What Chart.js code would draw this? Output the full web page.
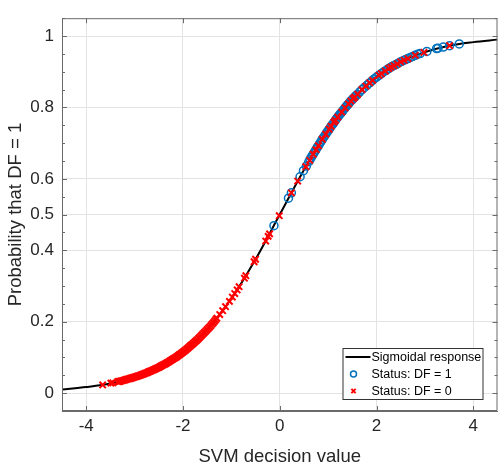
<!DOCTYPE html>
<html>
<head>
<meta charset="utf-8">
<script src="https://cdn.jsdelivr.net/npm/chart.js@4.4.1/dist/chart.umd.min.js"></script>
<style>
  html, body { margin: 0; padding: 0; background: #fff; overflow: hidden; }
  #wrap { width: 504px; height: 466px; }
</style>
</head>
<body>
<div id="wrap"><canvas id="chart" width="504" height="466"></canvas></div>
<script>
// Sigmoid curve
const curveX = [-4.5, -4, -3.5, -3, -2.5, -2, -1.5, -1, -0.5, 0, 0.5, 1, 1.5, 2, 2.5, 3, 3.5, 4, 4.5];
const curveY = [0.010, 0.017, 0.027, 0.045, 0.072, 0.115, 0.178, 0.265, 0.375, 0.5, 0.625, 0.735, 0.822, 0.885, 0.928, 0.955, 0.973, 0.983, 0.990];

// Status: DF = 1 (blue circles)
const dfOneX = [-0.12, 0.18, 0.24, 0.42, 0.49, 0.55,
  0.60, 0.65, 0.70, 0.75, 0.80, 0.85, 0.90, 0.95, 1.00, 1.05, 1.10, 1.15, 1.20, 1.25,
  1.30, 1.35, 1.40, 1.45, 1.50, 1.55, 1.60, 1.65, 1.70, 1.75, 1.80, 1.85, 1.90, 1.95,
  2.00, 2.05, 2.10, 2.15, 2.20, 2.25, 2.30, 2.35, 2.40, 2.45, 2.50, 2.55, 2.60, 2.65,
  2.70, 2.75, 2.80, 2.85, 2.90, 3.04, 3.24, 3.27, 3.38, 3.51, 3.71,
  0.625, 0.675, 0.725, 0.775, 0.825, 0.875, 0.925, 0.975, 1.025, 1.075,
  1.125, 1.175, 1.225, 1.275, 1.325, 1.375, 1.425, 1.475, 1.525, 1.575];
const dfOneY = [0.469, 0.546, 0.561, 0.606, 0.623, 0.636,
  0.648, 0.660, 0.671, 0.682, 0.693, 0.704, 0.715, 0.725, 0.735, 0.745, 0.754, 0.764, 0.773, 0.782,
  0.790, 0.799, 0.807, 0.815, 0.822, 0.829, 0.836, 0.843, 0.850, 0.856, 0.862, 0.868, 0.874, 0.880,
  0.885, 0.890, 0.895, 0.900, 0.904, 0.909, 0.913, 0.917, 0.920, 0.924, 0.928, 0.931, 0.934, 0.937,
  0.940, 0.943, 0.946, 0.949, 0.951, 0.957, 0.965, 0.966, 0.969, 0.973, 0.978,
  0.654, 0.666, 0.677, 0.688, 0.699, 0.710, 0.720, 0.730, 0.740, 0.750,
  0.759, 0.769, 0.778, 0.786, 0.795, 0.803, 0.811, 0.819, 0.826, 0.833];

// Status: DF = 0 (red crosses)
const dfZeroX = [-3.66, -3.49, -3.45,
  -3.35, -3.30, -3.25, -3.20, -3.15, -3.10, -3.05, -3.00, -2.95, -2.90, -2.85, -2.80,
  -2.75, -2.70, -2.65, -2.60, -2.55, -2.50, -2.45, -2.40, -2.35, -2.30, -2.25, -2.20,
  -2.15, -2.10, -2.05, -2.00, -1.95, -1.90, -1.85, -1.80, -1.75, -1.70, -1.65, -1.60,
  -1.55, -1.50, -1.45, -1.40, -1.35, -1.30,
  -3.325, -3.275, -3.225, -3.175, -3.125, -3.075, -3.025, -2.975, -2.925, -2.875, -2.825,
  -2.775, -2.725, -2.675, -2.625, -2.575, -2.525, -2.475, -2.425, -2.375, -2.325, -2.275,
  -2.225, -2.175, -2.125, -2.075, -2.025, -1.975, -1.925, -1.875, -1.825, -1.775, -1.725,
  -1.675, -1.625, -1.575, -1.525, -1.475, -1.425, -1.375, -1.325,
  -1.24, -1.18, -1.12, -1.04, -0.98, -0.93, -0.88, -0.84, -0.73, -0.70, -0.53, -0.50,
  -0.29, -0.24, -0.21, -0.01, 0.24, 0.37, 0.54,
  0.62, 0.69, 0.75, 0.80, 0.88, 0.95, 1.02, 1.06, 1.12, 1.15, 1.20, 1.28, 1.35, 1.42, 1.47,
  1.52, 1.55, 1.61, 1.70, 1.78, 1.86, 1.92, 2.05, 2.10, 2.18, 2.25, 2.30, 2.36, 2.43,
  2.50, 2.57, 2.65, 2.80, 2.98, 3.51];
const dfZeroY = [0.023, 0.028, 0.029,
  0.032, 0.033, 0.035, 0.037, 0.039, 0.041, 0.043, 0.045, 0.047, 0.049, 0.052, 0.054,
  0.057, 0.060, 0.063, 0.066, 0.069, 0.072, 0.076, 0.080, 0.083, 0.087, 0.092, 0.096,
  0.100, 0.105, 0.110, 0.115, 0.120, 0.126, 0.132, 0.138, 0.144, 0.150, 0.157, 0.164,
  0.171, 0.178, 0.185, 0.193, 0.201, 0.210,
  0.0326, 0.0343, 0.0360, 0.0378, 0.0397, 0.0417, 0.0438, 0.0460, 0.0483, 0.0507, 0.0532,
  0.0558, 0.0585, 0.0613, 0.0644, 0.0675, 0.0708, 0.0742, 0.0778, 0.0815, 0.0854, 0.0895,
  0.0938, 0.0980, 0.1025, 0.1075, 0.1125, 0.1175, 0.123, 0.129, 0.135, 0.141, 0.147,
  0.1535, 0.1605, 0.1675, 0.1745, 0.1815, 0.189, 0.197, 0.2055,
  0.220, 0.231, 0.242, 0.257, 0.269, 0.279, 0.289, 0.298, 0.322, 0.329, 0.368, 0.375,
  0.426, 0.439, 0.446, 0.497, 0.561, 0.594, 0.634,
  0.652, 0.669, 0.682, 0.693, 0.711, 0.725, 0.739, 0.747, 0.759, 0.764, 0.773, 0.787, 0.799, 0.810, 0.818,
  0.825, 0.829, 0.837, 0.850, 0.860, 0.869, 0.876, 0.890, 0.895, 0.902, 0.909, 0.913, 0.917, 0.922,
  0.928, 0.932, 0.937, 0.946, 0.954, 0.973];

const xTicks = [-4, -2, 0, 2, 4];
const yTicks = [0, 0.2, 0.4, 0.5, 0.6, 0.8, 1];
const yMinorStep = 0.05;

const axisColor = '#6a6a6a';
const textColor = '#262626';
const fontFamily = '"Liberation Sans", Arial, Helvetica, sans-serif';

function toPoints(xs, ys) {
    return xs.map((x, i) => ({ x: x, y: ys[i] }));
}

// MATLAB-like box: top/right border plus inward tick marks
const boxAxes = {
    id: 'boxAxes',
    afterDatasetsDraw(chart) {
        const { ctx, chartArea: a, scales: { x, y } } = chart;
        ctx.save();
        ctx.strokeStyle = axisColor;
        ctx.lineWidth = 1;
        ctx.beginPath();
        ctx.rect(a.left + 0.5, a.top + 0.5, a.right - a.left - 1, a.bottom - a.top - 1);
        xTicks.forEach(v => {
            const px = Math.round(x.getPixelForValue(v)) + 0.5;
            ctx.moveTo(px, a.bottom); ctx.lineTo(px, a.bottom - 5);
            ctx.moveTo(px, a.top); ctx.lineTo(px, a.top + 5);
        });
        for (let v = y.min; v <= y.max + 1e-9; v += yMinorStep) {
            const major = yTicks.some(t => Math.abs(t - v) < 1e-6);
            const len = major ? 5 : 3;
            const py = Math.round(y.getPixelForValue(v)) + 0.5;
            ctx.moveTo(a.left, py); ctx.lineTo(a.left + len, py);
            ctx.moveTo(a.right, py); ctx.lineTo(a.right - len, py);
        }
        ctx.stroke();
        ctx.restore();
    }
};

// legend box in the lower right corner of the axes
const boxLegend = {
    id: 'boxLegend',
    afterDraw(chart) {
        const { ctx, chartArea: a } = chart;
        const w = 140, h = 51;
        const x0 = a.right - 15 - w, y0 = a.bottom - 12 - h;
        ctx.save();
        ctx.fillStyle = '#fff';
        ctx.fillRect(x0, y0, w, h);
        ctx.strokeStyle = '#333';
        ctx.lineWidth = 1;
        ctx.strokeRect(x0 + 0.5, y0 + 0.5, w, h);
        ctx.font = '12.5px ' + fontFamily;
        ctx.textBaseline = 'middle';
        chart.data.datasets.forEach((ds, i) => {
            const cy = y0 + 9 + i * 17;
            const sx = x0 + 11;
            if (ds.showLine) {
                ctx.strokeStyle = ds.borderColor;
                ctx.lineWidth = 2;
                ctx.beginPath();
                ctx.moveTo(x0 + 3, cy); ctx.lineTo(x0 + 28, cy);
                ctx.stroke();
            } else {
                ctx.fillStyle = 'rgba(0,0,0,0)';
                ctx.strokeStyle = ds.borderColor;
                ctx.lineWidth = ds.borderWidth;
                Chart.helpers.drawPoint(ctx, {
                    pointStyle: ds.pointStyle, radius: 3, borderWidth: ds.borderWidth
                }, sx, cy);
            }
            ctx.fillStyle = '#000';
            ctx.fillText(ds.label, x0 + 29, cy + 1);
        });
        ctx.restore();
    }
};

new Chart(document.getElementById('chart'), {
    type: 'scatter',
    data: {
        datasets: [{
            label: 'Sigmoidal response',
            data: toPoints(curveX, curveY),
            showLine: true,
            borderColor: '#000',
            borderWidth: 2,
            pointRadius: 0,
            cubicInterpolationMode: 'monotone',
            order: 3
        }, {
            label: 'Status: DF = 1',
            data: toPoints(dfOneX, dfOneY),
            pointStyle: 'circle',
            pointRadius: 4,
            borderColor: '#0072BD',
            backgroundColor: 'rgba(0,0,0,0)',
            borderWidth: 1.5,
            order: 2
        }, {
            label: 'Status: DF = 0',
            data: toPoints(dfZeroX, dfZeroY),
            pointStyle: 'crossRot',
            pointRadius: 4.5,
            borderColor: '#ff0000',
            backgroundColor: '#ff0000',
            borderWidth: 2,
            order: 1
        }]
    },
    options: {
        responsive: false,
        animation: false,
        events: [],
        layout: { padding: { top: 10, right: 2, left: 0, bottom: 0 } },
        plugins: {
            legend: { display: false },
            tooltip: { enabled: false }
        },
        scales: {
            x: {
                type: 'linear',
                min: -4.5,
                max: 4.5,
                afterBuildTicks: s => { s.ticks = xTicks.map(v => ({ value: v })); },
                afterFit: s => { s.height = 55; },
                grid: { color: '#e3e3e3', drawTicks: false },
                border: { color: axisColor },
                ticks: {
                    padding: 5,
                    color: textColor,
                    font: { family: fontFamily, size: 17 },
                    callback: v => String(v)
                },
                title: {
                    display: true,
                    text: 'SVM decision value',
                    color: textColor,
                    font: { family: fontFamily, size: 18.5, lineHeight: 1 },
                    padding: { top: 0, bottom: 0 }
                }
            },
            y: {
                type: 'linear',
                min: -0.05,
                max: 1.05,
                afterBuildTicks: s => { s.ticks = yTicks.map(v => ({ value: v })); },
                afterFit: s => { s.width = 62; },
                grid: { color: '#e3e3e3', drawTicks: false },
                border: { color: axisColor },
                ticks: {
                    padding: 8,
                    color: textColor,
                    font: { family: fontFamily, size: 17 },
                    callback: v => String(v)
                },
                title: {
                    display: true,
                    text: 'Probability that DF = 1',
                    color: textColor,
                    font: { family: fontFamily, size: 18.5, lineHeight: 1.2 },
                    padding: { top: 5, bottom: 0 }
                }
            }
        }
    },
    plugins: [boxAxes, boxLegend]
});
</script>
</body>
</html>
